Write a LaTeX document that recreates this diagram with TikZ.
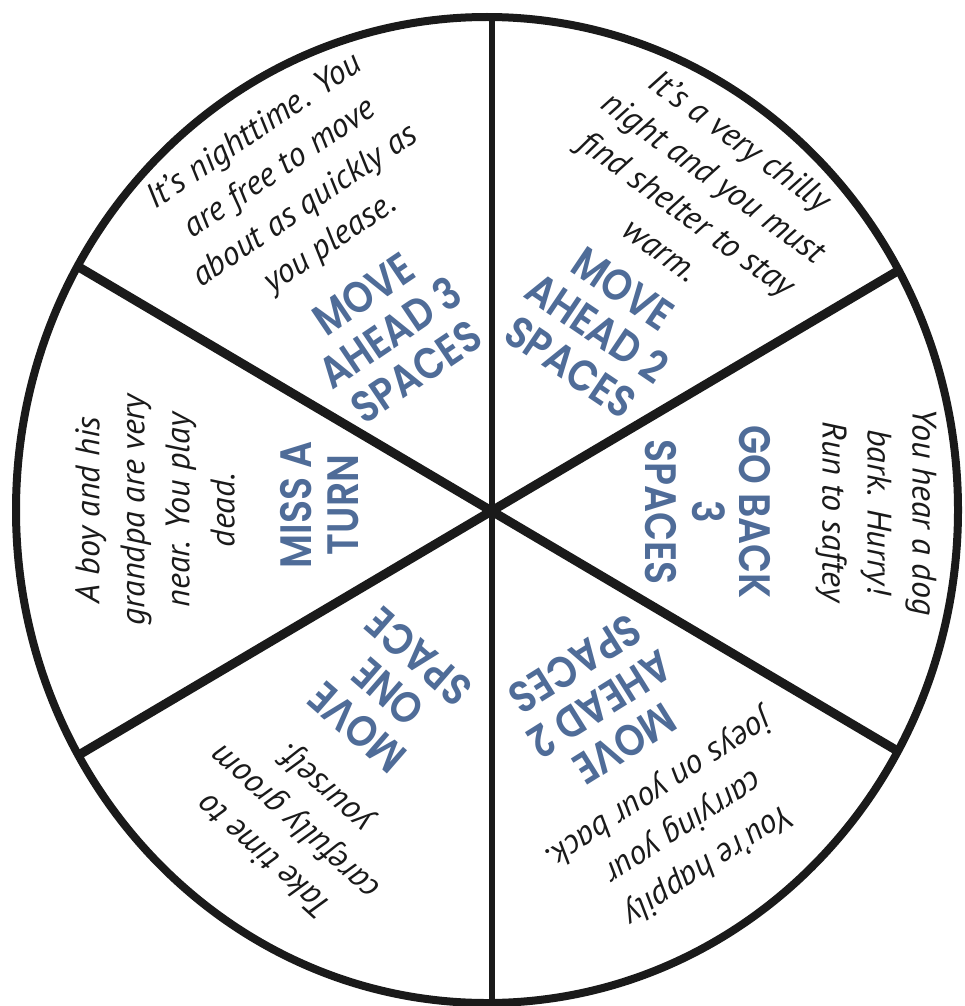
\documentclass[tikz,border=0pt]{standalone}
\usepackage{fontspec}
\newfontfamily\cardfont{PT Sans}
\newfontfamily\bluefont{Poppins}[BoldFont={Poppins SemiBold},FakeStretch=0.86]
\definecolor{cardblue}{RGB}{79,108,152}
\definecolor{ink}{RGB}{26,26,26}
\begin{document}
\begin{tikzpicture}[x=0.75pt,y=-0.75pt,
  story/.style={align=center,text=ink,inner sep=0pt,
    font=\cardfont\itshape\fontsize{25.5}{33.75}\selectfont},
  action/.style={align=center,text=cardblue,inner sep=0pt,
    font=\bluefont\bfseries\fontsize{33}{35.25}\selectfont},
  rim/.style={line width=6pt,draw=ink},
  spoke/.style={line width=6.8pt,draw=ink},
  axis/.style={line width=4.6pt,draw=ink}]
\useasboundingbox[fill=white] (0,0) rectangle (964,1006);
\coordinate (E) at (487,510);
\coordinate (top) at (492,0);
\coordinate (bot) at (492,1010);
\coordinate (p1) at (-400,-16);
\coordinate (p2) at (1400,1048);
\coordinate (q1) at (-400,1038);
\coordinate (q2) at (1400,-26);
\begin{scope}
  \clip (E) ellipse [x radius=353.25pt, y radius=369.75pt];
  \draw[axis] (top) -- (bot);
  \draw[spoke] (p1) -- (p2);
  \draw[spoke] (q1) -- (q2);
\end{scope}
\draw[rim] (E) ellipse [x radius=353.25pt, y radius=369.75pt];

% story texts
\node[story,rotate=34] (s1) at (293,188) {It’s nighttime. You\\are free to move\\about as quickly as\\you please.};
\node[story,rotate=-36] (s2) at (701,195) {It’s a very chilly\\night and you must\\find shelter to stay\\warm.};
\node[story,rotate=-90] (s3) at (876,512) {You hear a dog\\bark. Hurry!\\Run to saftey};
\node[story,rotate=-147] (s4) at (683,826) {You’re happily\\carrying your\\joeys on your back.};
\node[story,rotate=138] (s5) at (296,821) {Take time to\\carefully groom\\yourself.};
\node[story,rotate=90] (s6) at (155,510) {A boy and his\\grandpa are very\\near. You play\\dead.};

% action texts
\node[action,rotate=34] (a1) at (390,333) {MOVE\\AHEAD 3\\SPACES};
\node[action,rotate=-34] (a2) at (597,328) {MOVE\\AHEAD 2\\SPACES};
\node[action,rotate=-90] (a3) at (708,512) {GO BACK\\3\\SPACES};
\node[action,rotate=-148] (a4) at (600,704) {MOVE\\AHEAD 2\\SPACES};
\node[action,rotate=139] (a5) at (388,692) {MOVE\\ONE\\SPACE};
\node[action,rotate=90] (a6) at (320,505) {MISS A\\TURN};
\end{tikzpicture}
\end{document}
